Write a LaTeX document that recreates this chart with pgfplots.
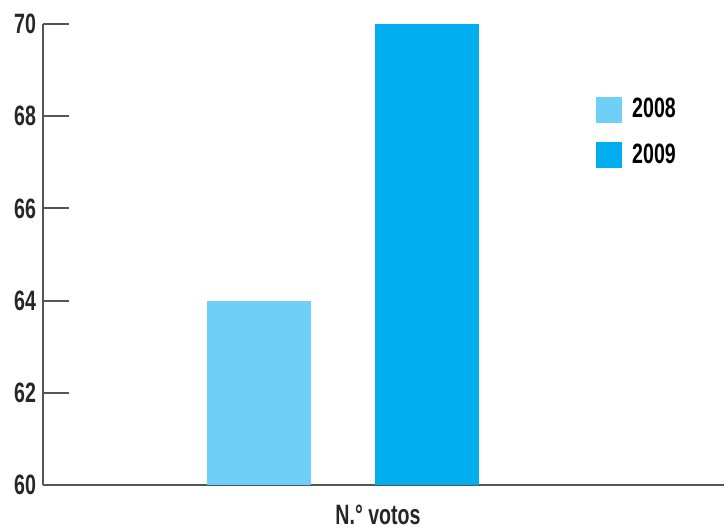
\documentclass[border=0pt]{standalone}
\usepackage{pgfplots}
\pgfplotsset{compat=1.18}
\usepackage{fontspec}
\setmainfont{Liberation Sans}[FakeStretch=0.7]
\definecolor{c08}{HTML}{6FCFF6}
\definecolor{c09}{HTML}{00AEEF}
\definecolor{axgray}{HTML}{555555}
\begin{document}
\begin{tikzpicture}
\useasboundingbox (-21.5pt,-23pt) rectangle (340.5pt,242.5pt);
\begin{axis}[
  at={(0pt,0pt)}, anchor=origin,
  scale only axis,
  width=340.5pt, height=230.5pt,
  xmin=0, xmax=681,
  ymin=60, ymax=70,
  ytick={60,62,...,70},
  xtick=\empty,
  axis x line*=bottom,
  axis y line*=left,
  axis line style={axgray, line width=0.9pt, -},
  ytick style={axgray, line width=0.9pt},
  tick align=inside,
  major tick length=13pt,
  font=\fontsize{14}{16}\selectfont\bfseries,
  tick label style={font=\fontsize{14}{16}\selectfont\bfseries, text=black!85},
  /pgf/number format/assume math mode=true,
  ybar, bar width=52pt,
  legend style={draw=none, fill=none, at={(rel axis cs:0.803,0.857)}, anchor=north west,
    font=\fontsize{14}{16}\selectfont\bfseries, row sep=7.5pt,
    /tikz/every odd column/.append style={column sep=3pt}},
  legend image code/.code={\fill[#1] (0pt,-6.5pt) rectangle (13pt,6.5pt);},
  legend cell align=left,
]
\addplot[fill=c08, draw=none, bar shift=0pt] coordinates {(216,64)};
\addplot[fill=c09, draw=none, bar shift=0pt] coordinates {(384,70)};
\legend{2008,2009}
\end{axis}
\node[font=\fontsize{14}{16}\selectfont\bfseries, text=black!85] at (167.5pt,-15pt) {N.° votos};
\end{tikzpicture}
\end{document}
